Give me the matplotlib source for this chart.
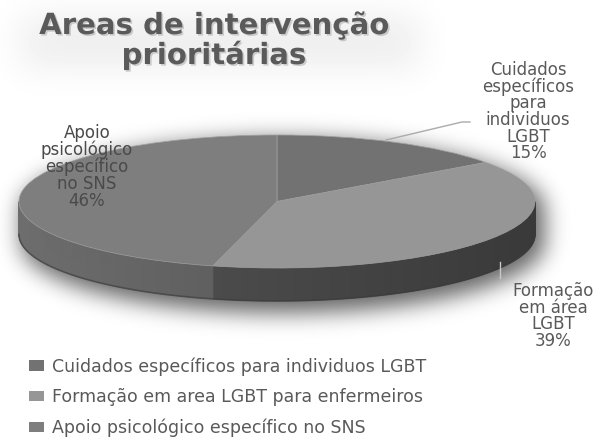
import numpy as np
import matplotlib
matplotlib.use("Agg")
import matplotlib.pyplot as plt
from matplotlib.patches import Wedge, Polygon
from matplotlib.transforms import Affine2D
from matplotlib import patheffects as pe

# ---- data ----
categories = ["Cuidados específicos para individuos LGBT",
              "Formação em area LGBT para enfermeiros",
              "Apoio psicológico específico no SNS"]
values = [15, 39, 46]
slice_labels = ["Cuidados\nespecíficos\npara\nindividuos\nLGBT\n15%",
                "Formação\nem área\nLGBT\n39%",
                "Apoio\npsicológico\nespecífico\nno SNS\n46%"]
title_lines = ["Areas de intervenção", "prioritárias"]

# ---- style ----
top_colors = ["#727272", "#969696", "#7e7e7e"]
side_colors = [(0.36, 0.36, 0.36), (0.33, 0.33, 0.33), (0.42, 0.42, 0.42)]
text_color = "#595959"

W, H = 606, 438
cx, cy, a, b, d = 277, 201.5, 258, 66.5, 33

fig = plt.figure(figsize=(W / 100, H / 100), dpi=100)
ax = fig.add_axes([0, 0, 1, 1])
ax.set_xlim(0, W)
ax.set_ylim(H, 0)
ax.axis("off")


# ---- background glow ----
def blur(img, sigma):
    r = int(3 * sigma)
    k = np.exp(-0.5 * (np.arange(-r, r + 1) / sigma) ** 2)
    k /= k.sum()
    img = np.apply_along_axis(lambda m: np.convolve(m, k, mode="same"), 0, img)
    img = np.apply_along_axis(lambda m: np.convolve(m, k, mode="same"), 1, img)
    return img


yy, xx = np.mgrid[0:H, 0:W] + 0.5


def in_ell(x0, y0, aa, bb):
    return ((xx - x0) / aa) ** 2 + ((yy - y0) / bb) ** 2 <= 1


ox, oy, grow = 6, 8, 4
mask = (in_ell(cx + ox, cy + oy, a + grow, b + grow)
        | in_ell(cx + ox, cy + oy + d, a + grow, b + grow)
        | ((np.abs(xx - cx - ox) <= a + grow) & (yy >= cy + oy) & (yy <= cy + oy + d)))
glow = blur(mask.astype(float), 11) * 0.6
tmask = ((xx > 20) & (xx < 420) & (yy > 15) & (yy < 68)).astype(float)
tglow = blur(tmask, 18) * 0.07
bg = 1 - np.clip(glow + tglow, 0, 1)
ax.imshow(bg, cmap="gray", vmin=0, vmax=1, extent=[0, W, H, 0], zorder=0,
          interpolation="bilinear", aspect="auto")

# ---- slice angles from data ----
total = float(sum(values))
angles = []
start = 90.0
for v in values:
    t2 = start
    t1 = start - 360.0 * v / total
    angles.append((t1, t2))
    start = t1

# ---- sides (front visible part: -180..0 degrees) ----
for (t1, t2), sc in zip(angles, side_colors):
    lo, hi = max(t1, -180), min(t2, 0)
    if lo >= hi:
        continue
    ts = np.linspace(lo, hi, int((hi - lo) * 2) + 2)
    for i in range(len(ts) - 1):
        tA, tB = np.radians(ts[i]), np.radians(ts[i + 1])
        tm = 0.5 * (tA + tB)
        shade = 0.85 + 0.17 * (-np.cos(tm))
        col = tuple(min(1, c * shade) for c in sc)
        pts = [(cx + a * np.cos(tA), cy - b * np.sin(tA)),
               (cx + a * np.cos(tB), cy - b * np.sin(tB)),
               (cx + a * np.cos(tB), cy - b * np.sin(tB) + d),
               (cx + a * np.cos(tA), cy - b * np.sin(tA) + d)]
        ax.add_patch(Polygon(pts, closed=True, facecolor=col, edgecolor=col,
                             lw=0.6, zorder=2))

# bottom rim shadow line
tt = np.radians(np.linspace(-180, 0, 200))
ax.plot(cx + a * np.cos(tt), cy - b * np.sin(tt) + d, color="#3a3a3a", lw=1.2,
        alpha=0.6, zorder=2.5)

# ---- top surface ----
ell_tr = Affine2D().scale(a, -b).translate(cx, cy) + ax.transData
wedges = []
for (t1, t2), col, lab in zip(angles, top_colors, categories):
    w = Wedge((0, 0), 1, t1, t2, facecolor=col, edgecolor="#a0a0a0", lw=0.5,
              transform=ell_tr, zorder=3, label=lab)
    ax.add_patch(w)
    wedges.append(w)

# ---- title ----
shadow = [pe.withSimplePatchShadow(offset=(1.2, -1.2), shadow_rgbFace="#9a9a9a", alpha=0.45)]
ax.text(214, 34, title_lines[0], ha="center", va="baseline", fontsize=21,
        fontweight="bold", color="#5a5a5a", path_effects=shadow, zorder=5)
ax.text(214, 64, title_lines[1], ha="center", va="baseline", fontsize=21,
        fontweight="bold", color="#5a5a5a", path_effects=shadow, zorder=5)

# ---- slice labels ----
lab_pos = [(528, 111.5), (553, 316), (87, 167)]
lab_cols = [text_color, text_color, "#4a4a4a"]
for txt, (x, y), c in zip(slice_labels, lab_pos, lab_cols):
    ax.text(x, y, txt, ha="center", va="center", multialignment="center",
            fontsize=12, color=c, linespacing=0.9, zorder=6)

# leader lines
ax.plot([386, 462, 470], [140, 122, 122], color="#ababab", lw=1, zorder=4)
ax.plot([500, 500], [262, 278], color="#c8c8c8", lw=1, zorder=4)

# ---- legend ----
leg = ax.legend(handles=wedges, labels=categories, loc="upper left",
                bbox_to_anchor=(29, 357), bbox_transform=ax.transData,
                frameon=False, fontsize=12.5, labelcolor=text_color,
                handlelength=0.85, handleheight=0.55, handletextpad=0.45,
                labelspacing=0.72, borderpad=0, borderaxespad=0)
for h in leg.legend_handles:
    h.set_edgecolor("none")

fig.savefig("out.png", dpi=100)
